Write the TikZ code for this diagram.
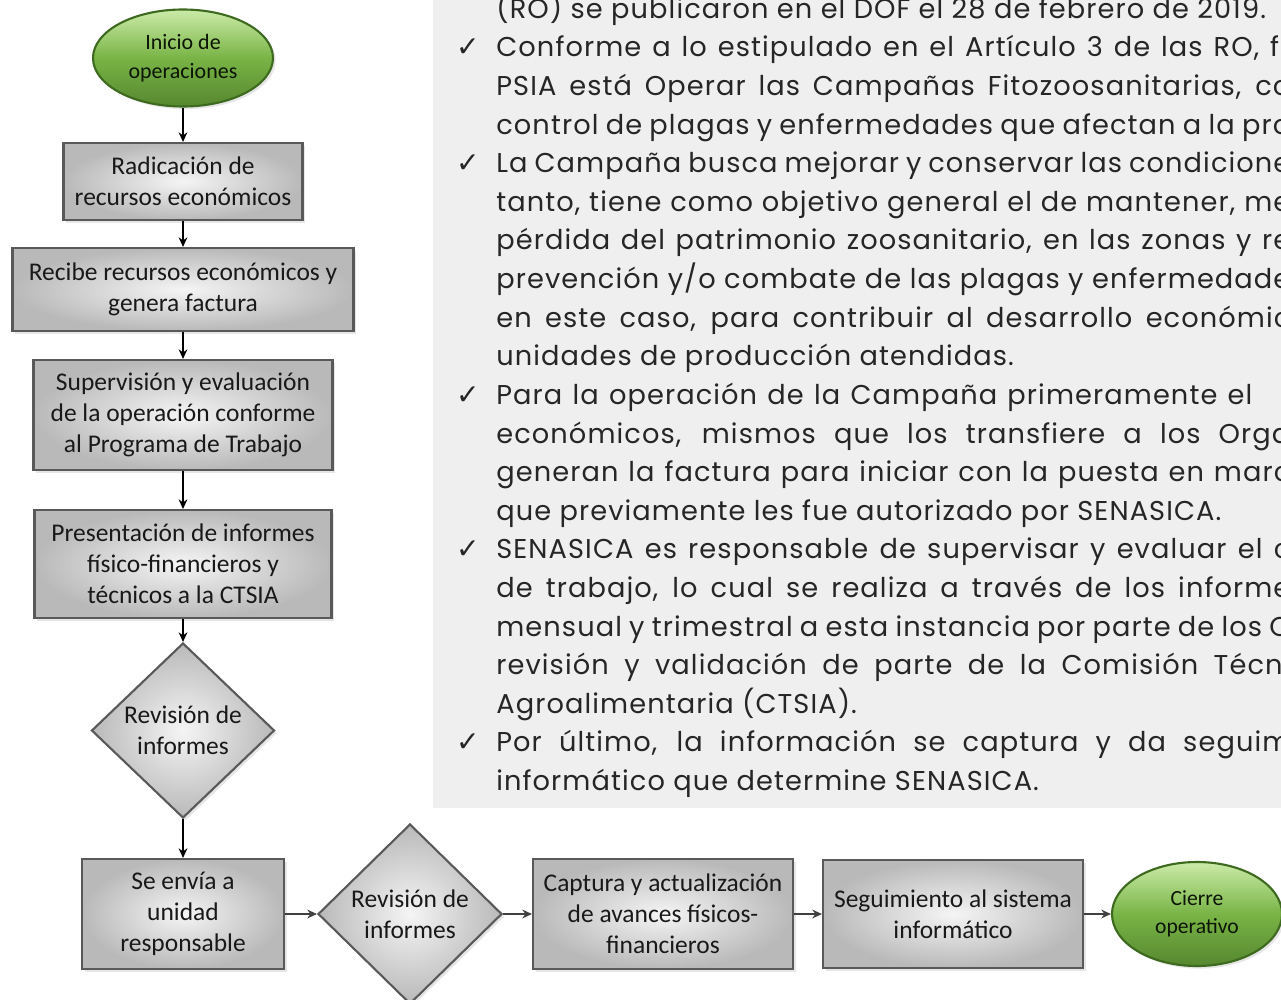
\documentclass[tikz,border=0pt]{standalone}
\usepackage{fontspec}
\setmainfont{Carlito}
\newfontfamily\panelfont[LetterSpace=4]{Poppins}
\newfontfamily\tickfont{DejaVu Sans}
\usepackage{tikz}
\usetikzlibrary{shapes,arrows.meta,shadows}
\definecolor{leaf}{HTML}{79B446}
\definecolor{leafhi}{HTML}{CBEBA8}
\definecolor{leafdk}{HTML}{3E6A20}
\definecolor{panelbg}{HTML}{EFEFEF}
\newlength\unitpx
\setlength\unitpx{0.02cm}
\newcommand\jline[2]{\makebox[#1\unitpx][s]{#2}}

\begin{document}
\begin{tikzpicture}[x=0.02cm,y=-0.02cm,>={Stealth[length=5.5pt,width=5pt]},
box/.style={rectangle,draw=black!65,line width=1.2pt,inner color=gray!8,outer color=gray!55,
  align=center,inner sep=0pt,text=black!90,font=\fontsize{14.5}{17.6}\selectfont,
  drop shadow={opacity=0.2,shadow xshift=1.5pt,shadow yshift=-1.5pt}},
rhombus/.style={box,diamond},
oval/.style={ellipse,draw=leafdk,line width=1.2pt,top color=leafhi,bottom color=leafdk!60!leaf,middle color=leaf,
  align=center,inner sep=0pt,text=black!80!leafdk,
  drop shadow={opacity=0.2,shadow xshift=1.5pt,shadow yshift=-1.5pt}},
vline/.style={->,line width=0.7pt,black},
hline/.style={->,line width=1.3pt,black!75},
ptxt/.style={anchor=base west,inner sep=0pt,font=\panelfont\fontsize{15.5}{17}\selectfont,text=black!85},
tick/.style={anchor=base,inner sep=0pt,font=\tickfont\fontsize{16}{17}\selectfont,text=black!85}]
\useasboundingbox (0,0) rectangle (1281,1000);
\clip (0,0) rectangle (1281,1000);
\fill[panelbg] (433,-5) rectangle (1290,808);

\node[ptxt] (l0) at (496,18.4) {(RO) se publicaron en el DOF el 28 de febrero de 2019.};
\node[ptxt] (l1) at (496,57) {\jline{794}{Conforme a lo estipulado en el Artículo 3 de las RO, fr}};
\node[ptxt] (l2) at (496,95.6) {\jline{794}{PSIA está Operar las Campañas Fitozoosanitarias, co}};
\node[ptxt] (l3) at (496,134.2) {\jline{794}{control de plagas y enfermedades que afectan a la pro}};
\node[ptxt] (l4) at (496,172.8) {\jline{794}{La Campaña busca mejorar y conservar las condicione}};
\node[ptxt] (l5) at (496,211.4) {\jline{794}{tanto, tiene como objetivo general el de mantener, me}};
\node[ptxt] (l6) at (496,250) {\jline{794}{pérdida del patrimonio zoosanitario, en las zonas y re}};
\node[ptxt] (l7) at (496,288.6) {\jline{794}{prevención y/o combate de las plagas y enfermedade}};
\node[ptxt] (l8) at (496,327.2) {\jline{794}{en este caso, para contribuir al desarrollo económic}};
\node[ptxt] (l9) at (496,365.8) {unidades de producción atendidas.};
\node[ptxt] (l10) at (496,404.4) {\jline{756}{Para la operación de la Campaña primeramente el}};
\node[ptxt] (l11) at (496,443) {\jline{794}{económicos, mismos que los transfiere a los Orga}};
\node[ptxt] (l12) at (496,481.6) {\jline{794}{generan la factura para iniciar con la puesta en marc}};
\node[ptxt] (l13) at (496,520.2) {que previamente les fue autorizado por SENASICA.};
\node[ptxt] (l14) at (496,558.8) {\jline{794}{SENASICA es responsable de supervisar y evaluar el c}};
\node[ptxt] (l15) at (496,597.4) {\jline{794}{de trabajo, lo cual se realiza a través de los informe}};
\node[ptxt] (l16) at (496,636) {\jline{794}{mensual y trimestral a esta instancia por parte de los C}};
\node[ptxt] (l17) at (496,674.6) {\jline{794}{revisión y validación de parte de la Comisión Técni}};
\node[ptxt] (l18) at (496,713.2) {Agroalimentaria (CTSIA).};
\node[ptxt] (l19) at (496,751.8) {\jline{794}{Por último, la información se captura y da seguim}};
\node[ptxt] (l20) at (496,790.4) {informático que determine SENASICA.};
\foreach \y [count=\i] in {57,172.8,404.4,558.8,751.8}
  \node[tick] (t\i) at (468,\y) {✓};

\node[oval,minimum width=180*\unitpx,minimum height=97*\unitpx,font=\fontsize{12.5}{16.5}\selectfont] (start) at (183,58) {Inicio de\\operaciones};
\node[box,minimum width=239*\unitpx,minimum height=77*\unitpx] (radica) at (183,181.5) {Radicación de\\recursos económicos};
\node[box,minimum width=341*\unitpx,minimum height=83*\unitpx] (recibe) at (183,289.5) {Recibe recursos económicos y\\genera factura};
\node[box,minimum width=299*\unitpx,minimum height=110*\unitpx] (superv) at (183,415) {Supervisión y evaluación\\de la operación conforme\\al Programa de Trabajo};
\node[box,minimum width=297*\unitpx,minimum height=108*\unitpx] (present) at (183,564) {Presentación de informes\\físico-financieros y\\técnicos a la CTSIA};
\node[rhombus,minimum width=183*\unitpx,minimum height=175*\unitpx] (rev1) at (183,730.5) {Revisión de\\informes};
\node[box,minimum width=202*\unitpx,minimum height=110*\unitpx] (envia) at (183,914) {Se envía a\\unidad\\responsable};
\node[rhombus,minimum width=184*\unitpx,minimum height=180*\unitpx] (rev2) at (410,914) {Revisión de\\informes};
\node[box,minimum width=260*\unitpx,minimum height=110*\unitpx] (captura) at (663,914) {Captura y actualización\\de avances físicos-\\financieros};
\node[box,minimum width=260*\unitpx,minimum height=108*\unitpx] (seguim) at (953,914) {Seguimiento al sistema\\informático};
\node[oval,minimum width=170*\unitpx,minimum height=104*\unitpx,font=\fontsize{12.3}{16}\selectfont] (cierre) at (1197,914) {Cierre\\operativo};

\draw[vline] (start) -- (radica);
\draw[vline] (radica) -- (recibe);
\draw[vline] (recibe) -- (superv);
\draw[vline] (superv) -- (present);
\draw[vline] (present) -- (rev1);
\draw[vline] (rev1) -- (envia);
\draw[hline] (envia) -- (rev2);
\draw[hline] (rev2) -- (captura);
\draw[hline] (captura) -- (seguim);
\draw[hline] (seguim) -- (cierre);
\end{tikzpicture}
\end{document}
